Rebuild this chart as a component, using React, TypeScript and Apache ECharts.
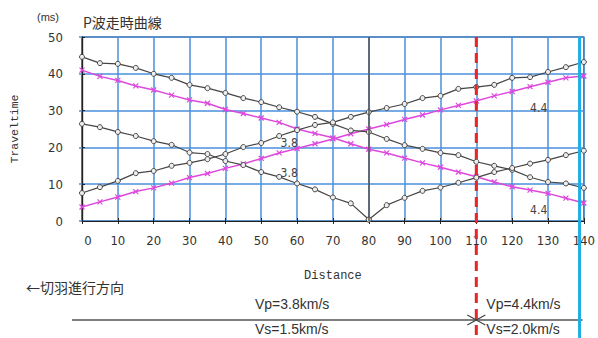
import React, { useEffect, useRef } from "react";
import * as echarts from "echarts";

// Distances (m) at which each travel time was picked
const distance = [0, 5, 10, 15, 20, 25, 30, 35, 40, 45, 50, 55, 60, 65, 70, 75, 80, 85, 90, 95, 100, 105, 110, 115, 120, 125, 130, 135, 140];
// Observed travel times (ms), black circles
const descTime = [44.6, 42.9, 42.7, 41.6, 40.0, 38.9, 37.0, 36.1, 34.8, 33.4, 32.3, 30.9, 29.7, 28.3, 26.4, 24.6, 24.2, 22.3, 20.6, 19.6, 18.5, 17.9, 16.1, 15.0, 13.9, 11.9, 10.6, 10.2, 9.0];
const ascTime = [7.6, 9.2, 10.9, 13.0, 13.6, 15.0, 15.8, 16.8, 18.2, 20.1, 21.2, 23.1, 24.7, 26.1, 26.8, 28.3, 29.6, 30.7, 31.8, 33.4, 34.0, 35.9, 36.4, 37.0, 38.9, 39.1, 40.5, 41.8, 43.2];
const vLeftDist = [0, 5, 10, 15, 20, 25, 30, 35, 40, 45, 50, 55, 60, 65, 70, 75, 80];
const vLeftTime = [26.4, 25.5, 24.2, 23.1, 21.7, 20.7, 18.6, 18.2, 16.3, 15.2, 13.3, 12.0, 10.2, 8.6, 6.4, 4.8, 0.4];
const vRightDist = [80, 85, 90, 95, 100, 105, 110, 115, 120, 125, 130, 135, 140];
const vRightTime = [0.4, 4.3, 6.3, 8.2, 9.1, 10.4, 11.8, 13.3, 14.4, 15.6, 16.6, 17.9, 19.1];
// Magenta (x markers)
const magDesc = [41.0, 39.3, 38.2, 36.7, 35.6, 34.2, 32.9, 32.0, 30.3, 29.2, 28.0, 26.8, 25.0, 23.8, 22.6, 21.0, 19.5, 18.5, 17.1, 15.8, 14.6, 13.3, 12.0, 10.6, 9.3, 8.4, 7.5, 6.2, 4.9];
const magAsc = [3.8, 5.2, 6.5, 8.0, 9.0, 10.3, 11.8, 12.9, 14.3, 15.5, 17.0, 18.5, 19.7, 21.0, 22.3, 23.7, 25.0, 26.2, 27.6, 28.8, 30.2, 31.4, 32.6, 34.0, 35.2, 36.5, 37.7, 38.9, 39.4];

// Velocity labels on the curves
const curveLabels = [
  { text: "3.8", x: 57.8, y: 21.2 },
  { text: "3.8", x: 57.8, y: 13.0 },
  { text: "4.4", x: 127.4, y: 30.6 },
  { text: "4.4", x: 127.4, y: 3.0 },
];
const boundaryRed = 110;
const boundaryCyan = 138.8;
const zoneTexts = ["Vp=3.8km/s", "Vs=1.5km/s", "Vp=4.4km/s", "Vs=2.0km/s"];

const BLUE = "#4a8fdc";
const DARK = "#454545";
const MAG = "#dd48dd";
const NARROW = "'Liberation Sans Narrow', 'DejaVu Sans Condensed', 'Liberation Sans', sans-serif";
const MONO = "'Liberation Mono', 'DejaVu Sans Mono', monospace";

const pairs = (xs: number[], ys: number[]) => xs.map((x, i) => [x, ys[i]]);

export default function App() {
  const ref = useRef<HTMLDivElement>(null);
  useEffect(() => {
    document.body.style.margin = "0";
    const chart = echarts.init(ref.current!, undefined, { renderer: "svg" });
    const circleSeries = (name: string, data: number[][], extra: any = {}) => ({
      name,
      type: "line",
      data,
      symbol: "circle",
      symbolSize: 5,
      lineStyle: { color: DARK, width: 1.2 },
      itemStyle: { color: "#eeeeee", borderColor: DARK, borderWidth: 1 },
      z: 4,
      ...extra,
    });
    const crossSeries = (name: string, data: number[][]) => ({
      name,
      type: "line",
      data,
      symbol: "path://M0,0L10,10M10,0L0,10",
      symbolSize: 5,
      lineStyle: { color: MAG, width: 1.5 },
      itemStyle: { color: MAG, borderColor: MAG, borderWidth: 1.2 },
      z: 3,
    });
    chart.setOption({
      animation: false,
      grid: { left: 74, right: 12, top: 37, bottom: 117, show: true, borderColor: "#222", borderWidth: 1.2, backgroundColor: "transparent" },
      xAxis: [
        {
          type: "value",
          min: 0,
          max: 140,
          interval: 10,
          name: "Distance",
          nameLocation: "middle",
          nameGap: 49,
          nameTextStyle: { fontFamily: MONO, fontSize: 12, color: "#333" },
          axisLine: { show: true, onZero: false, lineStyle: { color: "#222", width: 1.2 } },
          axisTick: { show: true, length: 3, lineStyle: { color: "#222" } },
          splitLine: { show: true, lineStyle: { color: BLUE, width: 1.5 } },
          axisLabel: {
            margin: 13,
            fontFamily: NARROW,
            fontSize: 13,
            color: "#333",
            formatter: (v: number) => (v === 0 ? "{z|0}" : String(v)),
            rich: { z: { padding: [0, 0, 0, 12], fontFamily: NARROW, fontSize: 13, color: "#333" } },
          },
        },
        {
          type: "value",
          position: "top",
          min: 0,
          max: 140,
          interval: 10,
          axisLine: { show: true, lineStyle: { color: "#222", width: 1.2 } },
          axisTick: { show: true, length: 3, lineStyle: { color: "#222" } },
          splitLine: { show: false },
          axisLabel: { show: false },
        },
      ],
      yAxis: [
        {
          type: "value",
          min: 0,
          max: 50,
          interval: 10,
          name: "Traveltime",
          nameLocation: "middle",
          nameGap: 62,
          nameRotate: 90,
          nameTextStyle: { fontFamily: MONO, fontSize: 11.5, color: "#333" },
          axisLine: { show: true, onZero: false, lineStyle: { color: "#222", width: 1.2 } },
          axisTick: { show: true, length: 3, lineStyle: { color: BLUE, width: 1.5 } },
          splitLine: { show: true, lineStyle: { color: BLUE, width: 1.5 } },
          axisLabel: { margin: 19, fontFamily: NARROW, fontSize: 13, color: "#333" },
        },
        {
          type: "value",
          position: "right",
          min: 0,
          max: 50,
          interval: 10,
          axisLine: { show: true, lineStyle: { color: "#222", width: 1.2 } },
          axisTick: { show: true, length: 3, lineStyle: { color: "#222" } },
          splitLine: { show: false },
          axisLabel: { show: false },
        },
      ],
      series: [
        circleSeries("desc", pairs(distance, descTime), {
          markLine: {
            silent: true,
            symbol: "none",
            label: { show: false },
            lineStyle: { color: "#555", type: "solid", width: 1.5 },
            data: [{ xAxis: 80 }],
          },
        }),
        circleSeries("asc", pairs(distance, ascTime)),
        circleSeries("vLeft", pairs(vLeftDist, vLeftTime)),
        circleSeries("vRight", pairs(vRightDist, vRightTime)),
        crossSeries("magDesc", pairs(distance, magDesc)),
        crossSeries("magAsc", pairs(distance, magAsc)),
      ],
    });

    const px = (x: number) => chart.convertToPixel({ xAxisIndex: 0 }, x) as number;
    const py = (y: number) => chart.convertToPixel({ yAxisIndex: 0 }, y) as number;
    const top = py(50);
    const H = 338;
    const xr = px(boundaryRed);
    const xc = px(boundaryCyan);
    const lineY = 320;
    const textFont = "14px 'Liberation Sans', Arial, sans-serif";
    const graphics: any[] = [
      {
        type: "line",
        shape: { x1: xr, y1: top, x2: xr, y2: H },
        style: { stroke: "#e8262a", lineWidth: 3, lineDash: [10, 6] },
        z: 20,
      },
      {
        type: "line",
        shape: { x1: xc, y1: top, x2: xc, y2: H },
        style: { stroke: "#1eaee6", lineWidth: 3 },
        z: 20,
      },
      {
        type: "line",
        shape: { x1: 72, y1: lineY, x2: xc + 3, y2: lineY },
        style: { stroke: "#555", lineWidth: 1.3 },
        z: 10,
      },
      {
        type: "polyline",
        shape: { points: [[xr - 9, lineY - 5], [xr, lineY], [xr - 9, lineY + 5]] },
        style: { stroke: "#444", lineWidth: 1.2, fill: null },
        z: 21,
      },
      {
        type: "polyline",
        shape: { points: [[xr + 9, lineY - 5], [xr, lineY], [xr + 9, lineY + 5]] },
        style: { stroke: "#444", lineWidth: 1.2, fill: null },
        z: 21,
      },
      { type: "text", x: 37, y: 17, style: { text: "(ms)", font: "11px 'Liberation Sans', sans-serif", fill: "#333", verticalAlign: "middle" } },
      { type: "text", left: 83, top: 15, style: { text: "P波走時曲線", font: "14px 'Noto Sans CJK JP', sans-serif", fill: "#333" } },
      { type: "text", left: 26, top: 280, style: { text: "←切羽進行方向", font: "14px 'Noto Sans CJK JP', sans-serif", fill: "#333" } },
      { type: "text", x: 255, y: 304, style: { text: zoneTexts[0], font: textFont, fill: "#333", verticalAlign: "middle" } },
      { type: "text", x: 255, y: 329, style: { text: zoneTexts[1], font: textFont, fill: "#333", verticalAlign: "middle" } },
      { type: "text", x: xr + 10, y: 304, style: { text: zoneTexts[2], font: textFont, fill: "#333", verticalAlign: "middle" } },
      { type: "text", x: xr + 10, y: 329, style: { text: zoneTexts[3], font: textFont, fill: "#333", verticalAlign: "middle" } },
    ];
    curveLabels.forEach((l) => {
      graphics.push({
        type: "text",
        x: px(l.x),
        y: py(l.y),
        style: { text: l.text, font: `12px ${NARROW}`, fill: "#444", align: "center", verticalAlign: "middle" },
        z: 15,
      });
    });
    chart.setOption({ graphic: graphics });
    return () => chart.dispose();
  }, []);
  return <div ref={ref} style={{ width: 598, height: 338 }} />;
}
